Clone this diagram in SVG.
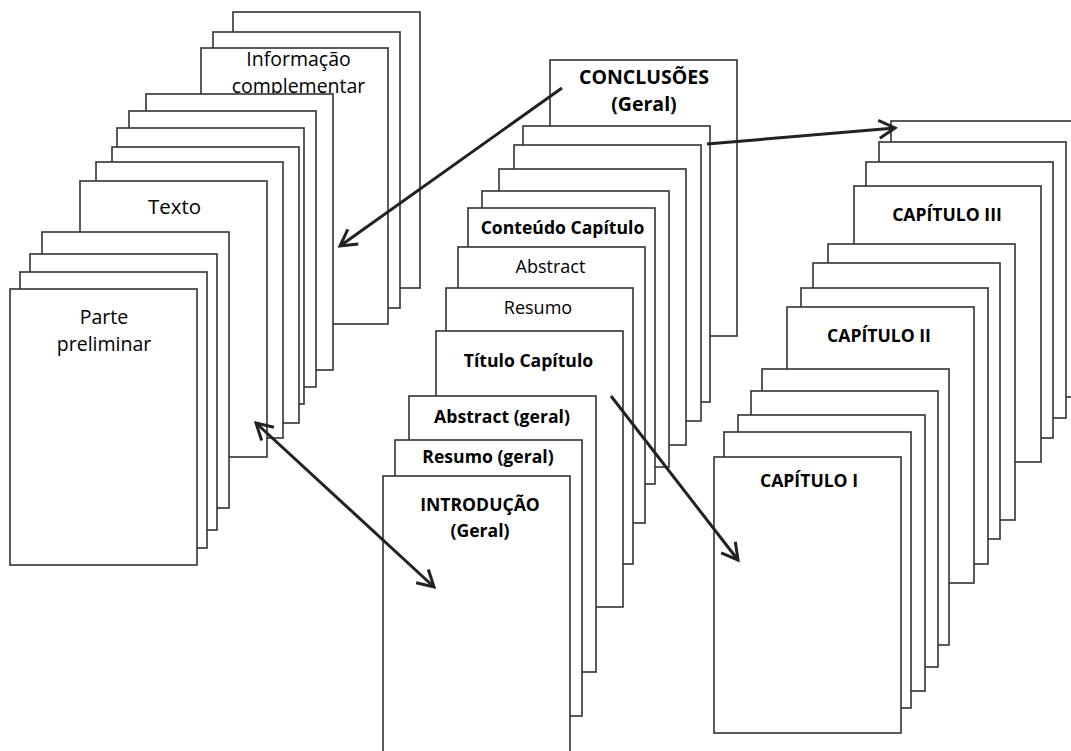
<svg xmlns="http://www.w3.org/2000/svg" width="1071" height="751" viewBox="0 0 1071 751">
<style>
.pg{fill:#fff;stroke:#333;stroke-width:1.6}
.t{font-family:"Open Sans","Noto Sans","DejaVu Sans",sans-serif;fill:#000;text-anchor:middle}
.r{font-size:19.5px}
.b{font-weight:bold;font-size:17.6px}
.bb{font-weight:bold;font-size:19.5px}
.ar{fill:none;stroke:#222;stroke-width:3}
</style>
<defs>
<marker id="ah" viewBox="-20 -12 24 24" refX="0" refY="0" markerWidth="24" markerHeight="24" markerUnits="userSpaceOnUse" orient="auto-start-reverse">
<path d="M-16,-9 L0,0 L-16,9" fill="none" stroke="#222" stroke-width="3"/>
</marker>
</defs>
<rect width="1071" height="751" fill="#fff"/>

<g id="left-stack">
<g id="l1"><rect class="pg" x="233" y="12" width="187" height="276"/></g>
<g id="l2"><rect class="pg" x="213" y="32" width="187" height="276"/></g>
<g id="informacao"><rect class="pg" x="201" y="48" width="187" height="276"/>
<text class="t r"><tspan x="298.5" y="65.8">Informação</tspan><tspan x="298.5" y="92.6">complementar</tspan></text></g>
<g id="l4"><rect class="pg" x="146" y="94" width="187" height="276"/></g>
<g id="l5"><rect class="pg" x="129" y="111" width="187" height="276"/></g>
<g id="l6"><rect class="pg" x="117" y="128" width="187" height="276"/></g>
<g id="l7"><rect class="pg" x="112" y="147" width="187" height="276"/></g>
<g id="l8"><rect class="pg" x="96" y="162" width="187" height="276"/></g>
<g id="texto"><rect class="pg" x="80" y="181" width="187" height="276"/>
<text class="t r" style="font-size:20.5px" x="174.5" y="213.5">Texto</text></g>
<g id="l10"><rect class="pg" x="42" y="232" width="187" height="276"/></g>
<g id="l11"><rect class="pg" x="30" y="254" width="187" height="276"/></g>
<g id="l12"><rect class="pg" x="20" y="272" width="187" height="276"/></g>
<g id="parte-preliminar"><rect class="pg" x="10" y="289" width="187" height="276"/>
<text class="t r"><tspan x="104" y="324">Parte</tspan><tspan x="104" y="350.8">preliminar</tspan></text></g>
</g>

<g id="middle-stack">
<g id="conclusoes"><rect class="pg" x="550" y="60" width="187" height="276"/>
<text class="t bb"><tspan x="644" y="84">CONCLUSÕES</tspan><tspan x="644" y="110.8">(Geral)</tspan></text></g>
<g id="m2"><rect class="pg" x="523" y="126" width="187" height="276"/></g>
<g id="m3"><rect class="pg" x="514" y="145" width="187" height="276"/></g>
<g id="m4"><rect class="pg" x="499" y="169" width="187" height="276"/></g>
<g id="m5"><rect class="pg" x="482" y="191" width="187" height="276"/></g>
<g id="conteudo-capitulo"><rect class="pg" x="468" y="208" width="187" height="276"/>
<text class="t b" x="562.5" y="234">Conteúdo Capítulo</text></g>
<g id="abstract"><rect class="pg" x="458" y="247" width="187" height="276"/>
<text class="t r" style="font-size:18px" x="550.5" y="273">Abstract</text></g>
<g id="resumo"><rect class="pg" x="446" y="288" width="187" height="276"/>
<text class="t r" style="font-size:18px" x="538" y="314">Resumo</text></g>
<g id="titulo-capitulo"><rect class="pg" x="436" y="331" width="187" height="276"/>
<text class="t b" x="528.5" y="367">Título Capítulo</text></g>
<g id="abstract-geral"><rect class="pg" x="409" y="396" width="187" height="276"/>
<text class="t b" x="502" y="423">Abstract (geral)</text></g>
<g id="resumo-geral"><rect class="pg" x="395" y="440" width="187" height="276"/>
<text class="t b" x="488" y="463">Resumo (geral)</text></g>
<g id="introducao"><rect class="pg" x="383" y="476" width="187" height="276"/>
<text class="t b"><tspan x="480" y="511">INTRODUÇÃO</tspan><tspan x="480" y="537">(Geral)</tspan></text></g>
</g>

<g id="right-stack">
<g id="r1"><rect class="pg" x="891" y="121" width="187" height="276"/></g>
<g id="r2"><rect class="pg" x="879" y="142" width="187" height="276"/></g>
<g id="r3"><rect class="pg" x="866" y="162" width="187" height="276"/></g>
<g id="capitulo-iii"><rect class="pg" x="854" y="186" width="187" height="276"/>
<text class="t b" x="947" y="221">CAPÍTULO III</text></g>
<g id="r5"><rect class="pg" x="828" y="244" width="187" height="276"/></g>
<g id="r6"><rect class="pg" x="813" y="263" width="187" height="276"/></g>
<g id="r7"><rect class="pg" x="801" y="288" width="187" height="276"/></g>
<g id="capitulo-ii"><rect class="pg" x="787" y="307" width="187" height="276"/>
<text class="t b" x="879" y="342">CAPÍTULO II</text></g>
<g id="r9"><rect class="pg" x="762" y="369" width="187" height="276"/></g>
<g id="r10"><rect class="pg" x="751" y="391" width="187" height="276"/></g>
<g id="r11"><rect class="pg" x="738" y="415" width="187" height="276"/></g>
<g id="r12"><rect class="pg" x="724" y="432" width="187" height="276"/></g>
<g id="capitulo-i"><rect class="pg" x="714" y="457" width="187" height="276"/>
<text class="t b" x="809" y="487">CAPÍTULO I</text></g>
</g>

<g id="connectors">
<line class="ar" x1="562" y1="88" x2="340" y2="246" marker-end="url(#ah)"/>
<line class="ar" x1="256" y1="423" x2="434" y2="587" marker-start="url(#ah)" marker-end="url(#ah)"/>
<line class="ar" x1="611" y1="396" x2="738" y2="560" marker-end="url(#ah)"/>
<line class="ar" x1="707" y1="144" x2="895" y2="128" marker-end="url(#ah)"/>
</g>
</svg>
